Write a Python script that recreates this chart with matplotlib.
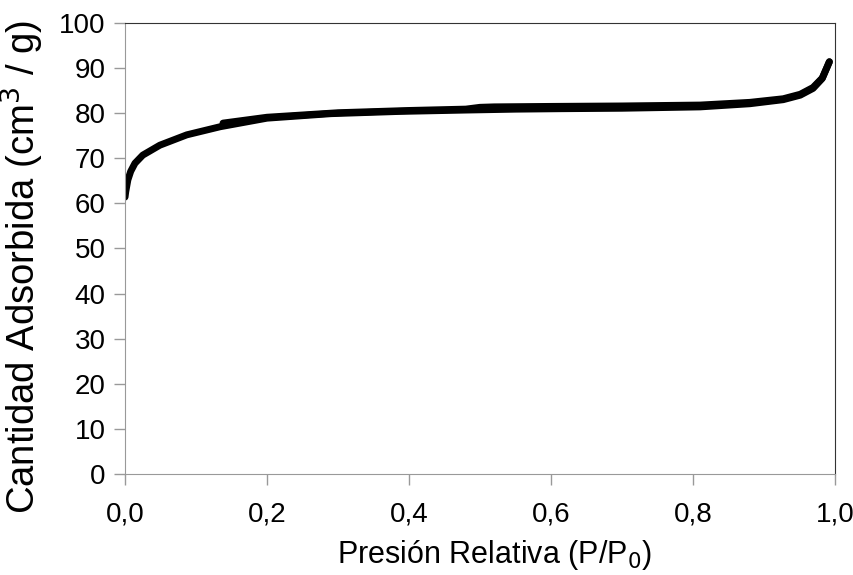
import matplotlib.pyplot as plt

# isoterma de adsorcion (lectura del grafico)
p_ads = [0.0, 0.001, 0.004, 0.008, 0.014, 0.025, 0.049, 0.087, 0.134, 0.2, 0.29,
         0.387, 0.48, 0.55, 0.613, 0.7, 0.81, 0.88, 0.927, 0.951, 0.969,
         0.982, 0.989, 0.992]
v_ads = [61.4, 62.6, 65.2, 67.1, 68.9, 70.7, 72.9, 75.2, 77.0, 78.9, 79.9,
         80.4, 80.7, 80.9, 81.0, 81.1, 81.4, 82.1, 83.0, 84.0, 85.5,
         87.7, 90.3, 91.4]
# rama de desorcion
p_des = [0.992, 0.989, 0.982, 0.969, 0.951, 0.927, 0.88, 0.81, 0.7, 0.6,
         0.52, 0.5, 0.48, 0.4, 0.3, 0.2, 0.138]
v_des = [91.4, 90.3, 87.8, 85.7, 84.2, 83.2, 82.4, 81.8, 81.6, 81.5,
         81.4, 81.3, 80.9, 80.6, 80.1, 79.1, 77.8]

xticks = [0.0, 0.2, 0.4, 0.6, 0.8, 1.0]
xtick_txt = ["0,0", "0,2", "0,4", "0,6", "0,8", "1,0"]
yticks = list(range(0, 101, 10))

plt.rcParams['font.family'] = ['Liberation Sans', 'DejaVu Sans']

fig = plt.figure(figsize=(8.54, 5.75), dpi=100)
ax = fig.add_axes([0.1464, 0.1757, 0.8314, 0.7843])

ax.plot(p_ads, v_ads, color='black', linewidth=5, solid_capstyle='round', solid_joinstyle='round')
ax.plot(p_des, v_des, color='black', linewidth=5, solid_capstyle='round', solid_joinstyle='round')

ax.set_xlim(0, 1.0)
ax.set_ylim(0, 100)
ax.set_xticks(xticks, xtick_txt)
ax.set_yticks(yticks)
ax.tick_params(direction='out', length=8, width=1, color='#999999', labelsize=20, pad=6)
ax.tick_params(axis='x', pad=12)

for s in ['left', 'bottom']:
    ax.spines[s].set_color('#999999')
for s in ['top', 'right']:
    ax.spines[s].set_color('#333333')

ax.set_xlabel("Presión Relativa (P/P$_0$)", fontsize=22)
ax.set_ylabel("Cantidad Adsorbida (cm$^3$ / g)", fontsize=27.5)
ax.xaxis.set_label_coords(0.52, -0.143)
ax.yaxis.set_label_coords(-0.112, 0.46)

plt.savefig("out.png", dpi=100)
